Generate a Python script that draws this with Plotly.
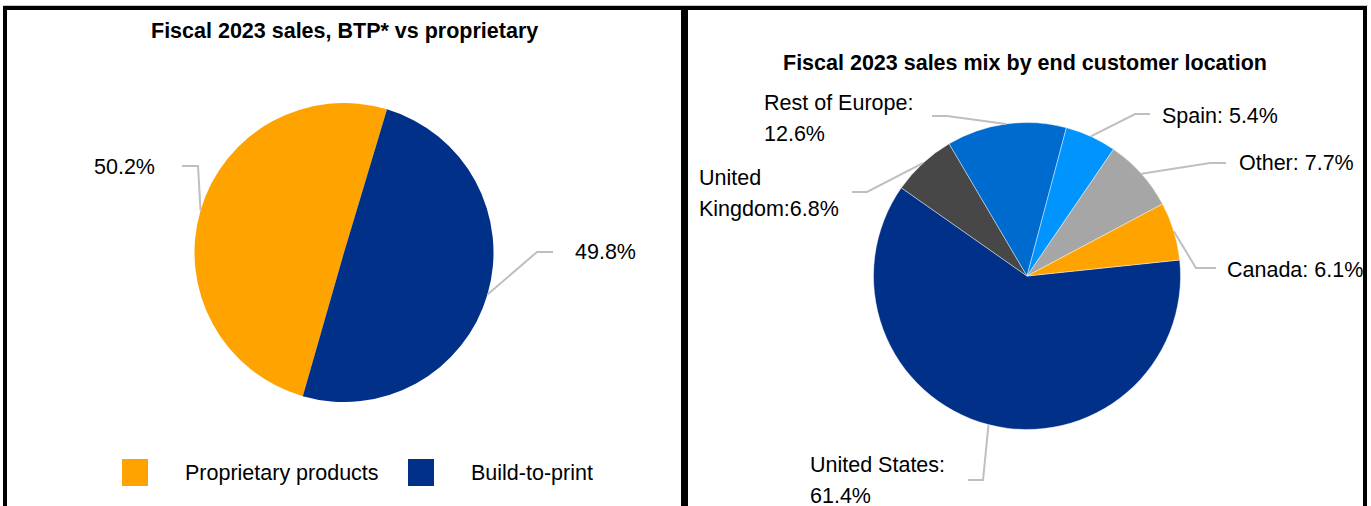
import math
import plotly.graph_objects as go

W, H = 1371, 506

# ---- data -------------------------------------------------------------
mix_labels = ["Proprietary products", "Build-to-print"]
mix_values = [50.2, 49.8]
mix_colors = ["#FFA300", "#003087"]

geo_labels = ["United States", "United Kingdom", "Rest of Europe", "Spain", "Other", "Canada"]
geo_values = [61.4, 6.8, 12.6, 5.4, 7.7, 6.1]
geo_colors = ["#003087", "#474747", "#006BCE", "#0094FF", "#A6A6A6", "#FFA300"]
geo_text = [
    ["United States:", "61.4%"],
    ["United", "Kingdom:6.8%"],
    ["Rest of Europe:", "12.6%"],
    ["Spain: 5.4%"],
    ["Other: 7.7%"],
    ["Canada: 6.1%"],
]
mix_text = [["50.2%"], ["49.8%"]]

FONT = "Liberation Sans, Arial, sans-serif"
LABEL_SIZE = 21.5
TITLE_SIZE = 21.5
LEADER = "#BFBFBF"


def fx(x):
    return x / W


def fy(y):
    return 1 - y / H


def font(size, weight="normal"):
    return dict(family=FONT, size=size, color="#000000", weight=weight)


# pie geometry in page pixels: centre and radius
PIES = {
    "mix": dict(cx=344, cy=252.5, r=149.5, rotation=196),
    "geo": dict(cx=1027, cy=276, r=153.5, rotation=84),
}


def domain(p):
    return dict(x=[fx(p["cx"] - p["r"]), fx(p["cx"] + p["r"])],
                y=[fy(p["cy"] + p["r"]), fy(p["cy"] - p["r"])])


def edge_points(values, p):
    """Point on the rim at the middle of each slice (clockwise from 12 o'clock)."""
    total = sum(values)
    start = p["rotation"]
    pts = []
    for v in values:
        span = 360 * v / total
        mid = math.radians(start + span / 2)
        pts.append((p["cx"] + p["r"] * math.sin(mid), p["cy"] - p["r"] * math.cos(mid)))
        start += span
    return pts


fig = go.Figure()
fig.add_trace(go.Pie(
    labels=mix_labels, values=mix_values, sort=False, direction="clockwise",
    rotation=PIES["mix"]["rotation"], domain=domain(PIES["mix"]),
    marker=dict(colors=mix_colors), textinfo="none", hoverinfo="label+percent",
    showlegend=False,
))
fig.add_trace(go.Pie(
    labels=geo_labels, values=geo_values, sort=False, direction="clockwise",
    rotation=PIES["geo"]["rotation"], domain=domain(PIES["geo"]),
    marker=dict(colors=geo_colors, line=dict(color="rgba(255,255,255,0.7)", width=0.6)),
    textinfo="none", hoverinfo="label+percent", showlegend=False,
))

shapes = []
annotations = []

# label placement: elbow point, end of the horizontal tick, text anchor (x, y of first line, side)
mix_layout = [
    dict(elbow=(198, 166), end=(182, 166), text=(157, 167, "right")),
    dict(elbow=(537, 252), end=(553, 252), text=(573, 252, "left")),
]
geo_layout = [
    dict(elbow=(983, 480), end=(968, 480), text=(808, 465, "left")),
    dict(elbow=(867, 192), end=(852, 192), text=(697, 178, "left")),
    dict(elbow=(947, 116), end=(932, 116), text=(762, 103, "left")),
    dict(elbow=(1135, 114), end=(1150, 114), text=(1160, 116, "left")),
    dict(elbow=(1210, 163), end=(1226, 163), text=(1237, 163, "left")),
    dict(elbow=(1196, 268), end=(1216, 268), text=(1225, 270, "left")),
]
LINE_GAP = 31


def add_labels(values, pie, layout, texts):
    for (ex, ey), lay, lines in zip(edge_points(values, pie), layout, texts):
        (bx, by), (tx, ty) = lay["elbow"], lay["end"]
        shapes.append(dict(
            type="path", xref="paper", yref="paper",
            path=f"M {fx(ex)} {fy(ey)} L {fx(bx)} {fy(by)} L {fx(tx)} {fy(ty)}",
            line=dict(color=LEADER, width=2),
        ))
        ax, ay, side = lay["text"]
        for i, line in enumerate(lines):
            annotations.append(dict(
                text=line, x=fx(ax), y=fy(ay + i * LINE_GAP), xref="paper", yref="paper",
                xanchor=side, yanchor="middle", showarrow=False, font=font(LABEL_SIZE),
            ))


add_labels(mix_values, PIES["mix"], mix_layout, mix_text)
add_labels(geo_values, PIES["geo"], geo_layout, geo_text)

# titles
annotations.append(dict(
    text="Fiscal 2023 sales, BTP* vs proprietary", x=fx(344), y=fy(31),
    xref="paper", yref="paper", xanchor="center", yanchor="middle", showarrow=False,
    font=font(TITLE_SIZE, "bold"),
))
annotations.append(dict(
    text="Fiscal 2023 sales mix by end customer location", x=fx(1025), y=fy(63),
    xref="paper", yref="paper", xanchor="center", yanchor="middle", showarrow=False,
    font=font(TITLE_SIZE, "bold"),
))

# legend for the left pie
legend_x = [122, 408]
for lx, name, col in zip(legend_x, mix_labels, mix_colors):
    shapes.append(dict(type="rect", xref="paper", yref="paper",
                       x0=fx(lx), x1=fx(lx + 26), y0=fy(486), y1=fy(459),
                       fillcolor=col, line=dict(width=0)))
    annotations.append(dict(
        text=name, x=fx(lx + 61), y=fy(473), xref="paper", yref="paper",
        xanchor="left", yanchor="middle", showarrow=False, font=font(LABEL_SIZE),
    ))

# panel frame
shapes.append(dict(type="line", xref="paper", yref="paper", x0=fx(3), x1=fx(1368),
                   y0=fy(5.5), y1=fy(5.5), line=dict(color="#C8C8C8", width=1)))
for x0, x1, y0, y1 in [(3, 1367, 6, 10), (3, 7, 6, 520), (1363, 1367, 6, 520), (681, 688, 6, 520)]:
    shapes.append(dict(type="rect", xref="paper", yref="paper",
                       x0=fx(x0), x1=fx(x1), y0=fy(y1), y1=fy(y0),
                       fillcolor="#000000", line=dict(width=0)))

fig.update_layout(
    width=W, height=H, margin=dict(l=0, r=0, t=0, b=0),
    paper_bgcolor="#FFFFFF", plot_bgcolor="#FFFFFF",
    shapes=shapes, annotations=annotations, showlegend=False,
)

fig.write_html("out.html")
